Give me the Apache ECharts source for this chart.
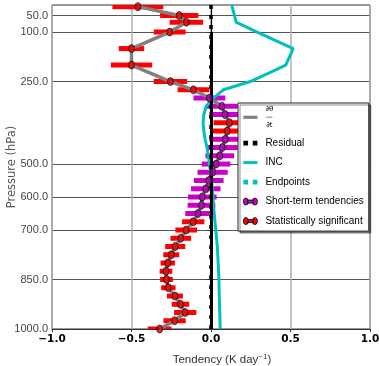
<!DOCTYPE html>
<html><head><meta charset="utf-8">
<script src="https://cdn.jsdelivr.net/npm/echarts@6/dist/echarts.min.js"></script>
<style>html,body{margin:0;padding:0;background:#fff}#c{width:379px;height:366px}</style>
</head><body><div id="c"></div>
<script>
// Pressure levels (hPa) of the tendency profile
const levels = [23,50,70,100,150,200,250,275,300,325,350,375,400,425,450,475,500,525,550,575,600,625,650,675,700,725,750,775,800,825,850,875,900,925,950,975,1000];
// Short-term tendency (K/day)
const tendency = [-0.46,-0.20,-0.155,-0.26,-0.50,-0.50,-0.255,-0.11,-0.01,0.068,0.089,0.116,0.102,0.09,0.071,0.055,0.032,0.01,-0.014,-0.033,-0.055,-0.06,-0.082,-0.112,-0.156,-0.19,-0.225,-0.25,-0.272,-0.283,-0.28,-0.268,-0.227,-0.192,-0.162,-0.229,-0.323];
// Half width of the error bars (K/day)
const errHalf = [0.16,0.12,0.105,0.10,0.08,0.13,0.105,0.10,0.10,0.10,0.10,0.10,0.10,0.10,0.097,0.09,0.09,0.095,0.093,0.093,0.09,0.087,0.08,0.07,0.068,0.065,0.063,0.05,0.045,0.04,0.04,0.045,0.05,0.055,0.07,0.07,0.075];
// 1 = statistically significant, 0 = not
const significant = [1,1,1,1,1,1,1,1,0,0,0,1,1,0,0,0,0,0,0,0,0,0,0,1,1,1,1,1,1,1,1,1,1,1,1,1,1];
// INC profile
const incLevels = [18,50,70,100,150,200,225,250,275,300,325,350,375,400,425,450,475,500,525,550,575,600,650,700,750,800,850,900,950,1000];
const incValues = [0.13,0.148,0.158,0.29,0.517,0.47,0.36,0.247,0.078,0.015,-0.03,-0.045,-0.05,-0.045,-0.037,-0.025,-0.017,-0.01,-0.003,0.003,0.008,0.012,0.02,0.03,0.04,0.045,0.05,0.052,0.055,0.058];
// Residual profile
const residualLevels = [18,50,70,100,150,200,250,300,400,500,600,700,800,900,1000];
const residualValues = [0,0,0,0,0,0,0,0,0,0,0,0,0,0,0];
// Endpoints (not visible in the picture)
const endpointLevels = [];
const endpointValues = [];
// Axis ticks
const yTicks = [50,100,250,500,600,700,850,1000];
const xMin = -1, xMax = 1, xStep = 0.5;
const yMin = 18, yMax = 1000;

const RED = '#ff0000', PURPLE = '#cc00cc';
const chart = echarts.init(document.getElementById('c'), null, {renderer: 'canvas'});

function barRender(color) {
  return function (params, api) {
    const x = api.value(0), p = api.value(1), e = api.value(2);
    const a = api.coord([x - e, p]), b = api.coord([x + e, p]);
    return {type: 'rect', shape: {x: a[0], y: a[1] - 2.5, width: b[0] - a[0], height: 5}, style: {fill: color}};
  };
}
const sigData = [], nsData = [];
levels.forEach((p, i) => { (significant[i] ? sigData : nsData).push([tendency[i], p, errHalf[i]]); });

const sans = "'Liberation Sans',Arial,sans-serif";
const errIcon = 'path://M0,3.5a2.5,3.5 0 1,0 5,0a2.5,3.5 0 1,0 -5,0zM9,3.5a2.5,3.5 0 1,0 5,0a2.5,3.5 0 1,0 -5,0zM4,2h6v3h-6z';

chart.setOption({
  animation: false,
  grid: {left: 52, right: 9, top: 5, bottom: 37, containLabel: false, outerBoundsMode: 'none',
    show: true, borderColor: '#333', borderWidth: 1},
  xAxis: {
    type: 'value', min: xMin, max: xMax, interval: xStep,
    name: 'Tendency (K day{sup|−1})', nameLocation: 'middle', nameGap: 24, nameMoveOverlap: false,
    nameTextStyle: {fontFamily: sans, fontSize: 11.5, color: '#333', padding: [0, 0, 0, 22],
      rich: {sup: {fontSize: 8, verticalAlign: 'top', padding: [0, 0, 6, 0], fontFamily: sans, color: '#333'}}},
    axisLine: {show: true, lineStyle: {color: '#333'}},
    axisTick: {show: true, length: 3, lineStyle: {color: '#333'}},
    axisLabel: {fontFamily: "'DejaVu Sans',sans-serif", fontWeight: 'bold', fontSize: 10.5, color: '#000', margin: 5,
      formatter: v => (v < 0 ? '−' : '') + Math.abs(v).toFixed(1)},
    splitLine: {show: true, lineStyle: {color: '#b0b0b0', width: 1.5}}
  },
  yAxis: {
    type: 'value', inverse: true, min: yMin, max: yMax,
    name: 'Pressure (hPa)', nameLocation: 'middle', nameGap: 34, nameMoveOverlap: false,
    nameTextStyle: {fontFamily: "'DejaVu Sans',sans-serif", fontSize: 11.5, color: '#555'},
    axisLine: {show: true, lineStyle: {color: '#333'}},
    axisTick: {show: true, length: 4, customValues: yTicks, lineStyle: {color: '#333'}},
    axisLabel: {customValues: yTicks, fontFamily: sans, fontSize: 11, color: '#444', margin: 4,
      formatter: v => v.toFixed(1)},
    splitLine: {show: true, lineStyle: {color: '#555', width: 1}}
  },
  legend: {
    orient: 'vertical', left: 238, top: 103, padding: [3, 5, 5, 5],
    backgroundColor: '#fff', borderColor: '#222', borderWidth: 1,
    shadowColor: 'rgba(0,0,0,0.45)', shadowOffsetX: 2, shadowOffsetY: 2, shadowBlur: 0,
    itemWidth: 14, itemHeight: 8, itemGap: 9.5,
    itemStyle: {borderWidth: 0},
    textStyle: {fontFamily: sans, fontSize: 10, color: '#000', padding: [0, 0, 0, 3],
      rich: {f: {fontSize: 7, lineHeight: 7.8, fontFamily: "'DejaVu Sans',sans-serif", color: '#000', align: 'center'}}},
    formatter: n => n === '∂θ/∂t' ? '{f|∂θ}\n{f|—}\n{f|∂t}' : n,
    data: [
      {name: '∂θ/∂t', icon: 'path://M0,0h14v3.2h-14z'},
      {name: 'Residual', icon: 'path://M0,0h4v4h-4zM8,0h4v4h-4z'},
      {name: 'INC', icon: 'path://M0,0h14v3h-14z'},
      {name: 'Endpoints', icon: 'path://M0,0h4v4h-4zM8,0h4v4h-4z'},
      {name: 'Short-term tendencies', icon: errIcon, itemStyle: {borderColor: '#000', borderWidth: 0.8}},
      {name: 'Statistically significant', icon: errIcon, itemStyle: {borderColor: '#000', borderWidth: 0.8}}
    ]
  },
  series: [
    {name: 'Statistically significant', type: 'custom', renderItem: barRender(RED), data: sigData,
      encode: {x: 0, y: 1}, itemStyle: {color: RED}, z: 1, clip: true},
    {name: 'Short-term tendencies', type: 'custom', renderItem: barRender(PURPLE), data: nsData,
      encode: {x: 0, y: 1}, itemStyle: {color: PURPLE}, z: 1, clip: true},
    {name: 'INC', type: 'line', data: incLevels.map((p, i) => [incValues[i], p]), showSymbol: false, symbol: 'none',
      lineStyle: {color: '#00bfbf', width: 3}, itemStyle: {color: '#00bfbf'}, z: 2},
    {name: 'Endpoints', type: 'line', data: endpointLevels.map((p, i) => [endpointValues[i], p]), symbol: 'none',
      lineStyle: {color: '#00bfbf', width: 3, type: [3, 5]}, itemStyle: {color: '#00bfbf'}, z: 2},
    {name: '∂θ/∂t', type: 'line', data: levels.map((p, i) => [tendency[i], p]), symbol: 'none',
      lineStyle: {color: '#808080', width: 3.5}, itemStyle: {color: '#808080'}, z: 3},
    {name: 'Residual', type: 'line', data: residualLevels.map((p, i) => [residualValues[i], p]), symbol: 'none',
      lineStyle: {color: '#000', width: 3.5, type: [4, 6]}, itemStyle: {color: '#000'}, z: 4,
      markLine: {silent: true, symbol: 'none', label: {show: false},
        data: [
          [{coord: [0, 100], lineStyle: {color: '#000', width: 3, type: 'solid'}}, {coord: [0, 1000]}],
          [{coord: [0, 18], lineStyle: {color: '#000', width: 1.2, type: 'solid'}}, {coord: [0, 1000]}]
        ]}},
    {name: 'points', type: 'scatter', data: levels.map((p, i) => ({value: [tendency[i], p],
        itemStyle: {color: significant[i] ? '#e00000' : '#a000a0'}})),
      symbol: 'circle', symbolSize: [6, 8], itemStyle: {borderColor: '#000', borderWidth: 0.8}, z: 5}
  ]
});
</script></body></html>
